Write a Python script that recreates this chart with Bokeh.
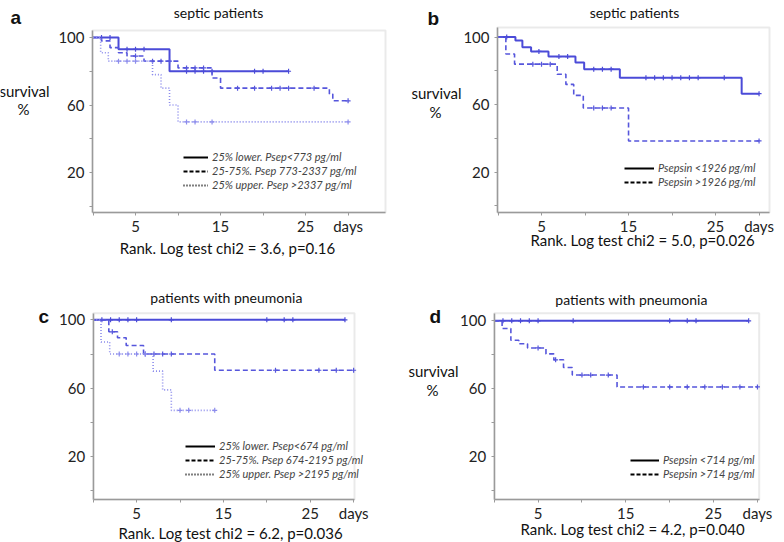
import numpy as np
from bokeh.plotting import figure
from bokeh.layouts import column, row
from bokeh.models import Label, Legend, LegendItem, FixedTicker, Range1d, BoxAnnotation
from bokeh.embed import file_html
from bokeh.resources import INLINE

# ---------------- data ----------------
# Panel a: septic patients, quartiles
a_low_t = [0, 3, 9, 23]
a_low_s = [100, 93, 80, 80]
a_low_c = [1, 2, 4, 5, 6, 11, 12, 13, 14, 19, 20, 23]
a_mid_t = [0, 1, 2, 3, 4, 6, 10, 14, 15, 27.8, 28.2, 30]
a_mid_s = [100, 98, 94, 91, 89, 86, 82, 76, 70, 66.5, 62.5, 62.5]
a_mid_c = [5, 7, 8, 9, 11, 12, 13, 17, 19, 21, 22, 23, 26, 30]
a_up_t = [0, 0.9, 1.8, 7, 8, 9, 10, 30]
a_up_s = [100, 91, 86, 78, 70, 60, 50, 50]
a_up_c = [3, 4, 5, 11, 12, 14, 30]

# Panel b: septic patients, two groups
b_low_t = [0, 2, 2.8, 3.8, 5.8, 8.9, 9.9, 14, 28, 30]
b_low_s = [100, 98, 94, 91.5, 88.5, 85, 81, 76, 66.5, 66.5]
b_low_c = [1, 4.7, 7, 8, 11, 12, 13, 17, 18, 19, 20, 21, 22, 23, 26, 30]
b_high_t = [0, 0.9, 1.9, 6.8, 7.8, 8.7, 9.8, 15, 30]
b_high_s = [100, 90, 84, 78, 72, 65.5, 58, 38.5, 38.5]
b_high_c = [4, 5, 6, 11, 12, 13, 30]

# Panel c: pneumonia, quartiles
c_low_t = [0, 29]
c_low_s = [100, 100]
c_low_c = [1, 2, 3, 4, 5, 9, 20, 22, 23, 29]
c_mid_t = [0, 1.8, 2.8, 3.8, 5.8, 14, 30]
c_mid_s = [100, 93, 89.5, 85, 80, 70.5, 70.5]
c_mid_c = [2.2, 6, 7, 8, 9, 21, 26, 28, 30]
c_up_t = [0, 0.9, 1.9, 6.9, 8, 9, 14]
c_up_s = [100, 87, 80, 70, 59, 47, 47]
c_up_c = [3, 4, 5, 6, 10, 11, 14]

# Panel d: pneumonia, two groups
d_low_t = [0, 29]
d_low_s = [100, 100]
d_low_c = [1, 2, 3, 4, 5, 9, 20, 22, 23, 29]
d_high_t = [0, 0.9, 1.9, 2.8, 3.8, 5.9, 6.8, 7.9, 8.9, 14, 30]
d_high_s = [100, 95.5, 88.5, 86.5, 84, 80.5, 77, 72.5, 68, 61, 61]
d_high_c = [5, 7, 10, 11, 13, 17, 20, 22, 24, 26, 28, 30]

y_ticks = [0, 20, 40, 60, 80, 100]
y_tick_labels = {0: "", 20: "20", 40: "", 60: "60", 80: "", 100: "100"}
x_ticks = [0, 5, 10, 15, 20, 25, 30]
x_tick_labels = {0: "", 5: "5", 10: "", 15: "15", 20: "", 25: "25", 30: "days"}

titles = ["septic patients", "septic patients", "patients with pneumonia", "patients with pneumonia"]
letters = ["a", "b", "c", "d"]
stats = ["Rank. Log test chi2 = 3.6, p=0.16", "Rank. Log test chi2 = 5.0, p=0.026",
         "Rank. Log test chi2 = 6.2, p=0.036", "Rank. Log test chi2 = 4.2, p=0.040"]
legend_a = ["25% lower. Psep<773 pg/ml", "25-75%. Psep 773-2337 pg/ml", "25% upper. Psep >2337 pg/ml"]
legend_b = ["Psepsin <1926 pg/ml", "Psepsin >1926 pg/ml"]
legend_c = ["25% lower. Psep<674 pg/ml", "25-75%. Psep 674-2195 pg/ml", "25% upper. Psep >2195 pg/ml"]
legend_d = ["Psepsin <714 pg/ml", "Psepsin >714 pg/ml"]

# ---------------- styles ----------------
FONT = "Lato"
BLUE = "#4b4bd8"
BLUE2 = "#5656dc"
LIGHT = "#8c8cec"
STY = {
    "solid": dict(color=BLUE, width=2.0, dash="solid", leg_dash="solid"),
    "dashed": dict(color=BLUE2, width=1.6, dash="5 3", leg_dash="4 2"),
    "dotted": dict(color=LIGHT, width=1.6, dash="1 2", leg_dash="1 2"),
}

W, H = 392, 271


def surv_at(t, s, tc):
    val = s[0]
    for ti, si in zip(t, s):
        if ti <= tc:
            val = si
    return val


def make_panel(box, xr, yr, origin, curves, leg_labels, leg_pos, glyph_w, texts):
    L, R, T, B = box
    x0, x1 = xr
    y0, y1 = yr
    ox, oy = origin
    sx = (x1 - x0) / (R - L)
    sy = (y1 - y0) / (B - T)
    fx0 = x0 - (L - ox) * sx
    fx1 = x1 + (ox + W - R) * sx
    fy1 = y1 + (T - oy) * sy
    fy0 = y0 - (oy + H - B) * sy

    p = figure(width=W, height=H, x_range=Range1d(fx0, fx1), y_range=Range1d(fy0, fy1),
               output_backend="svg", toolbar_location=None, min_border=0, title_location=None)
    p.xgrid.visible = False
    p.ygrid.visible = False
    p.outline_line_color = None
    p.background_fill_color = "white"
    p.border_fill_color = "white"

    p.add_layout(BoxAnnotation(left=x0, right=x1, bottom=y0, top=y1, fill_alpha=0,
                               line_color="#b8b8b8", line_width=2, level="underlay"))

    for ax in (p.xaxis[0], p.yaxis[0]):
        ax.axis_line_color = "#9a9a9a"
        ax.axis_line_width = 1.5
        ax.major_tick_line_color = "#9a9a9a"
        ax.major_tick_out = 3
        ax.major_tick_in = 0
        ax.minor_tick_line_color = None
        ax.major_label_text_font = FONT
        ax.major_label_text_font_size = "15px"
        ax.major_label_text_color = "#222222"
    p.yaxis.fixed_location = x0
    p.yaxis.bounds = (y0, y1)
    p.yaxis.ticker = FixedTicker(ticks=y_ticks)
    p.yaxis.major_label_overrides = y_tick_labels
    p.yaxis.major_label_standoff = 5
    p.xaxis.fixed_location = y0
    p.xaxis.bounds = (x0, x1)
    p.xaxis.ticker = FixedTicker(ticks=x_ticks)
    p.xaxis.major_label_overrides = x_tick_labels
    p.xaxis.major_label_standoff = 1

    for t, s, c, style in curves:
        st = STY[style]
        p.step(t, s, mode="after", line_color=st["color"], line_width=st["width"], line_dash=st["dash"])
        cy = [surv_at(t, s, tc) for tc in c]
        p.scatter(c, cy, marker="cross", size=5, line_color=st["color"], line_width=1.2)

    items = []
    for lab, (_, _, _, style) in zip(leg_labels, curves):
        r = p.line([np.nan, np.nan], [np.nan, np.nan], line_color="black", line_width=2,
                   line_dash=STY[style]["leg_dash"])
        items.append(LegendItem(label=lab, renderers=[r]))
    lx = leg_pos[0] - ox
    ly = (oy + H) - leg_pos[1]
    leg = Legend(items=items, location=(lx, ly), glyph_width=glyph_w, glyph_height=12,
                 label_height=12, spacing=1, padding=0, margin=0, label_standoff=4,
                 background_fill_alpha=0, border_line_alpha=0,
                 label_text_font=FONT, label_text_font_style="italic",
                 label_text_font_size="11px", label_text_color="#444444")
    p.add_layout(leg)

    for txt, px, py, size, style, align, font in texts:
        x = fx0 + (px - ox) * sx
        y = fy1 - (py - oy) * sy
        p.add_layout(Label(x=x, y=y, text=txt, text_font=font, text_font_size=size,
                           text_font_style=style, text_align=align, text_baseline="middle",
                           text_color="#111111"))
    return p


# box (page px: left, right, top, bottom), x range of box, y range of box, figure origin
pa = make_panel((92, 385, 30, 212), (-0.06, 34.4), (-3.7, 104.15), (0, 0),
                [(a_low_t, a_low_s, a_low_c, "solid"), (a_mid_t, a_mid_s, a_mid_c, "dashed"),
                 (a_up_t, a_up_s, a_up_c, "dotted")],
                legend_a, (183, 191), 25,
                [(letters[0], 10, 17, "19px", "bold", "left", "Liberation Sans"),
                 (titles[0], 218, 12, "14px", "normal", "center", FONT),
                 ("survival", 24, 90, "15px", "normal", "center", FONT),
                 ("%", 23, 108, "15px", "normal", "center", FONT),
                 (stats[0], 227, 247, "15px", "normal", "center", FONT)])

pb = make_panel((497, 769, 27, 212), (-0.06, 31.2), (-3.9, 105.7), (392, 0),
                [(b_low_t, b_low_s, b_low_c, "solid"), (b_high_t, b_high_s, b_high_c, "dashed")],
                legend_b, (624, 188), 30,
                [(letters[1], 427, 18, "19px", "bold", "left", "Liberation Sans"),
                 (titles[1], 634, 12, "14px", "normal", "center", FONT),
                 ("survival", 436, 92, "15px", "normal", "center", FONT),
                 ("%", 435, 111, "15px", "normal", "center", FONT),
                 (stats[1], 642, 239, "15px", "normal", "center", FONT)])

pc = make_panel((92.7, 354, 312.7, 499), (0.0, 30.1), (-5.2, 103.9), (0, 271),
                [(c_low_t, c_low_s, c_low_c, "solid"), (c_mid_t, c_mid_s, c_mid_c, "dashed"),
                 (c_up_t, c_up_s, c_up_c, "dotted")],
                legend_c, (185, 480), 30,
                [(letters[2], 38, 316, "19px", "bold", "left", "Liberation Sans"),
                 (titles[2], 226, 297, "14px", "normal", "center", FONT),
                 (stats[2], 230, 532, "15px", "normal", "center", FONT)])

pd_ = make_panel((493.7, 758.7, 312.7, 499), (0.0, 30.2), (-5.4, 104.5), (392, 271),
                 [(d_low_t, d_low_s, d_low_c, "solid"), (d_high_t, d_high_s, d_high_c, "dashed")],
                 legend_d, (630, 480), 29,
                 [(letters[3], 429, 316, "19px", "bold", "left", "Liberation Sans"),
                  (titles[3], 631, 299, "14px", "normal", "center", FONT),
                  ("survival", 433, 370, "15px", "normal", "center", FONT),
                  ("%", 432, 389, "15px", "normal", "center", FONT),
                  (stats[3], 632, 528, "15px", "normal", "center", FONT)])

layout = column(row(pa, pb, spacing=0), row(pc, pd_, spacing=0), spacing=0)

open("out.html", "w").write(file_html(layout, INLINE))
